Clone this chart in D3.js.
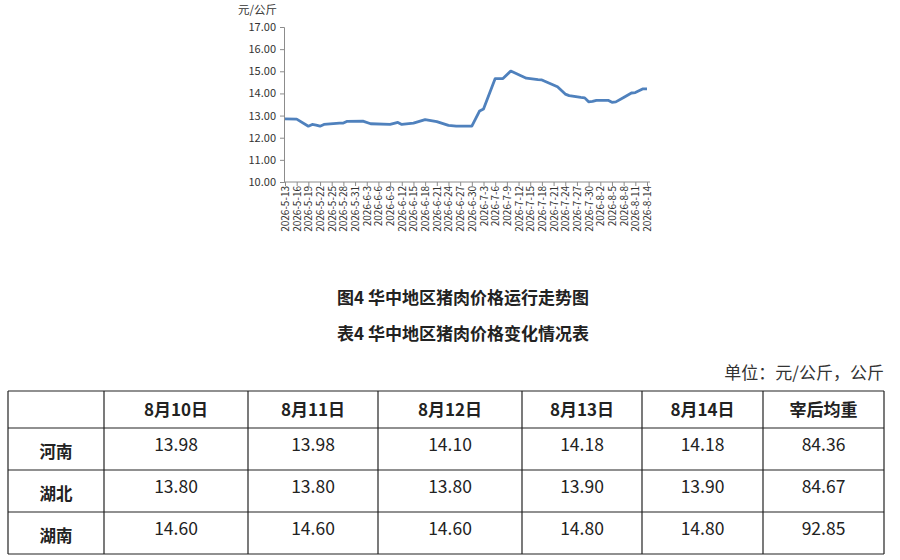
<!DOCTYPE html>
<html>
<head>
<meta charset="utf-8">
<script src="https://cdn.jsdelivr.net/npm/d3@7"></script>
<style>
  body { margin: 0; background: #fff; }
  text { font-family: "Noto Sans CJK SC", "Noto Sans", sans-serif; }
</style>
</head>
<body>
<script>
// line data (vertices)
var priceDates = ['2026-5-13','2026-5-16','2026-5-19','2026-5-20','2026-5-21','2026-5-22','2026-5-23',
  '2026-5-27','2026-5-28','2026-5-29','2026-6-2','2026-6-4','2026-6-9','2026-6-11','2026-6-12',
  '2026-6-15','2026-6-18','2026-6-21','2026-6-24','2026-6-26','2026-6-30','2026-7-2','2026-7-3',
  '2026-7-6','2026-7-8','2026-7-10','2026-7-14','2026-7-17','2026-7-18','2026-7-22','2026-7-24',
  '2026-7-25','2026-7-28','2026-7-29','2026-7-30','2026-7-31','2026-8-1','2026-8-4','2026-8-5',
  '2026-8-6','2026-8-8','2026-8-10','2026-8-11','2026-8-13','2026-8-14'];
var priceValues = [12.85,12.84,12.52,12.60,12.57,12.52,12.60,
  12.66,12.66,12.74,12.75,12.63,12.60,12.69,12.60,
  12.66,12.82,12.73,12.56,12.52,12.52,13.21,13.30,
  14.67,14.67,15.01,14.69,14.62,14.61,14.30,13.97,
  13.90,13.82,13.80,13.62,13.64,13.69,13.69,13.60,
  13.62,13.82,14.02,14.04,14.21,14.21];
var tickLabels = ['2026-5-13','2026-5-16','2026-5-19','2026-5-22','2026-5-25','2026-5-28','2026-5-31',
  '2026-6-3','2026-6-6','2026-6-9','2026-6-12','2026-6-15','2026-6-18','2026-6-21','2026-6-24',
  '2026-6-27','2026-6-30','2026-7-3','2026-7-6','2026-7-9','2026-7-12','2026-7-15','2026-7-18',
  '2026-7-21','2026-7-24','2026-7-27','2026-7-30','2026-8-2','2026-8-5','2026-8-8','2026-8-11','2026-8-14'];
var yTicks = [10, 11, 12, 13, 14, 15, 16, 17];

// table data
var colHeads = ['', '8月10日', '8月11日', '8月12日', '8月13日', '8月14日', '宰后均重'];
var provinces = ['河南', '湖北', '湖南'];
var henan = [13.98, 13.98, 14.10, 14.18, 14.18, 84.36];
var hubei = [13.80, 13.80, 13.80, 13.90, 13.90, 84.67];
var hunan = [14.60, 14.60, 14.60, 14.80, 14.80, 92.85];

var parse = d3.timeParse('%Y-%m-%d');
var svg = d3.select('body').append('svg').attr('width', 900).attr('height', 560);

var x = d3.scaleTime()
  .domain([parse(tickLabels[0]), parse(tickLabels[tickLabels.length - 1])])
  .range([285, 647]);
var y = d3.scaleLinear().domain([10, 17]).range([182, 27]);

// y axis
var yAxis = svg.append('g').attr('transform', 'translate(284,0)')
  .call(d3.axisLeft(y).tickValues(yTicks).tickSize(4).tickFormat(d3.format('.2f')));
yAxis.select('.domain').attr('stroke', '#8c8c8c');
yAxis.selectAll('.tick line').attr('stroke', '#8c8c8c');
yAxis.selectAll('.tick text').attr('font-family', 'DejaVu Sans').attr('font-size', 11)
  .attr('fill', '#333').attr('x', -8);

// x axis
var xAxis = svg.append('g').attr('transform', 'translate(0,182)')
  .call(d3.axisBottom(x).tickValues(tickLabels.map(parse)).tickSize(4)
    .tickFormat(function(d, i) { return tickLabels[i]; }));
xAxis.select('.domain').attr('stroke', '#8c8c8c').attr('d', 'M284,0H650');
xAxis.selectAll('.tick line').attr('stroke', '#8c8c8c');
xAxis.selectAll('.tick text')
  .attr('font-family', 'DejaVu Sans').attr('font-size', 10).attr('fill', '#333')
  .attr('text-anchor', 'end').attr('transform', 'rotate(-90)')
  .attr('x', -4).attr('y', 0).attr('dy', '0.35em');

svg.append('text').attr('x', 238).attr('y', 14).attr('font-size', 11.5).attr('fill', '#333')
  .text('元/公斤');

// line
var pts = priceDates.map(function(d, i) { return {date: parse(d), v: priceValues[i]}; });
svg.append('path').datum(pts)
  .attr('fill', 'none').attr('stroke', '#4f81bd').attr('stroke-width', 2.8)
  .attr('stroke-linejoin', 'round')
  .attr('d', d3.line().x(function(d) { return x(d.date); }).y(function(d) { return y(d.v); }));

// titles
svg.append('text').attr('x', 463).attr('y', 304).attr('text-anchor', 'middle')
  .attr('font-size', 17).attr('font-weight', 'bold').attr('fill', '#222')
  .text('图4 华中地区猪肉价格运行走势图');
svg.append('text').attr('x', 463).attr('y', 340).attr('text-anchor', 'middle')
  .attr('font-size', 17).attr('font-weight', 'bold').attr('fill', '#222')
  .text('表4 华中地区猪肉价格变化情况表');
svg.append('text').attr('x', 884).attr('y', 379).attr('text-anchor', 'end')
  .attr('font-size', 17).attr('fill', '#333')
  .text('单位：元/公斤，公斤');

// table
var colX = [8, 104, 248, 378, 522, 642, 763, 884];
var rowY = [391, 428, 470, 512, 554];
var rows = [henan, hubei, hunan];
var tbl = svg.append('g');
tbl.selectAll('line.h').data(rowY).enter().append('line')
  .attr('x1', colX[0]).attr('x2', colX[colX.length - 1])
  .attr('y1', function(d) { return d; }).attr('y2', function(d) { return d; })
  .attr('stroke', '#222').attr('stroke-width', 1.2);
tbl.selectAll('line.v').data(colX).enter().append('line')
  .attr('y1', rowY[0]).attr('y2', rowY[rowY.length - 1])
  .attr('x1', function(d) { return d; }).attr('x2', function(d) { return d; })
  .attr('stroke', '#222').attr('stroke-width', 1.2);

function cx(i) { return (colX[i] + colX[i + 1]) / 2; }
tbl.selectAll('text.head').data(colHeads).enter().append('text')
  .attr('x', function(d, i) { return cx(i); }).attr('y', (rowY[0] + rowY[1]) / 2 + 6)
  .attr('text-anchor', 'middle').attr('font-size', 17).attr('font-weight', 'bold').attr('fill', '#222')
  .text(function(d) { return d; });
provinces.forEach(function(p, r) {
  var cyy = (rowY[r + 1] + rowY[r + 2]) / 2;
  tbl.append('text').attr('x', cx(0)).attr('y', cyy + 9).attr('text-anchor', 'middle')
    .attr('font-size', 16.5).attr('font-weight', 'bold').attr('fill', '#222').text(p);
  tbl.selectAll('text.r' + r).data(rows[r]).enter().append('text')
    .attr('x', function(d, i) { return cx(i + 1); }).attr('y', cyy + 2)
    .attr('text-anchor', 'middle').attr('font-size', 17.5).attr('fill', '#222')
    .attr('font-family', 'Noto Sans CJK SC')
    .text(function(d) { return d.toFixed(2); });
});
</script>
</body>
</html>
